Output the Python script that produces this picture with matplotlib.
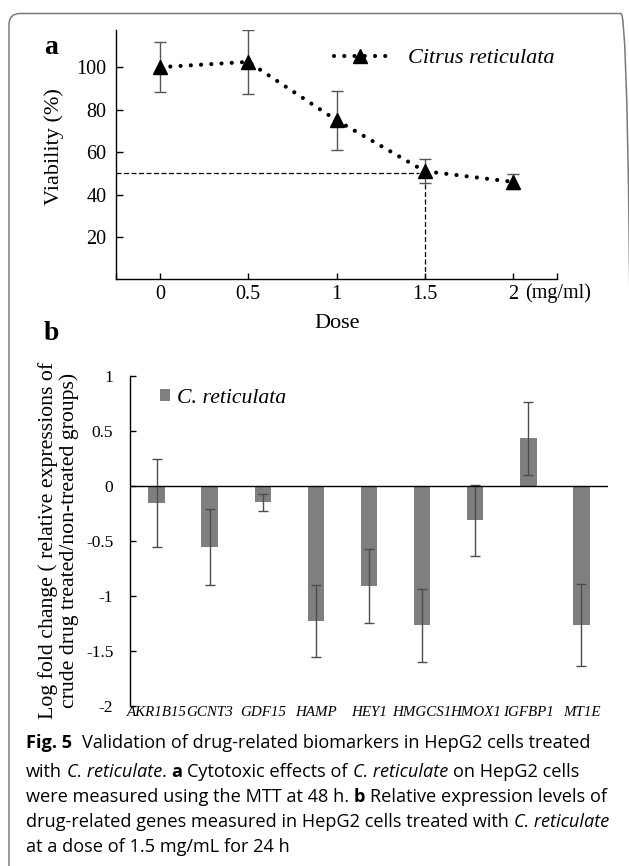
import matplotlib
matplotlib.use("Agg")
import matplotlib.pyplot as plt
from matplotlib.patches import FancyBboxPatch
from matplotlib.transforms import IdentityTransform
from matplotlib.ticker import FixedLocator

# ---- data: panel a (MTT viability) ----
doses = [0, 0.5, 1, 1.5, 2]
viability = [100, 102.5, 75, 51, 46]
viability_err = [11.7, 15, 14, 5.7, 3.5]
dose_ticks = [0, 0.5, 1, 1.5, 2]
dose_ticklabels = ["0", "0.5", "1", "1.5", "2"]
viab_ticks = [20, 40, 60, 80, 100]
ic50_dose = 1.5
ic50_viab = 50

# ---- data: panel b (log fold change) ----
genes = ["AKR1B15", "GCNT3", "GDF15", "HAMP", "HEY1", "HMGCS1", "HMOX1", "IGFBP1", "MT1E"]
log_fc = [-0.16, -0.553, -0.15, -1.228, -0.91, -1.267, -0.315, 0.43, -1.264]
log_fc_err = [0.40, 0.345, 0.08, 0.325, 0.34, 0.33, 0.32, 0.33, 0.37]
fc_ticks = [1, 0.5, 0, -0.5, -1, -1.5, -2]
fc_ticklabels = ["1", "0.5", "0", "-0.5", "-1", "-1.5", "-2"]

W, H = 629, 866
SERIF = "Liberation Serif"
SANS = "Open Sans"
plt.rcParams["font.family"] = [SERIF, "DejaVu Serif"]


def fx(x):
    return x / W


def fy(y):
    return 1 - y / H


fig = plt.figure(figsize=(W / 100, H / 100), dpi=100)

# rounded frame
frame = FancyBboxPatch((9, -60), 632 - 9, H - 13.5 + 60,
                       boxstyle="round,pad=0,rounding_size=11",
                       transform=IdentityTransform(), fill=False,
                       ec="#7a7a7a", lw=1.1)
fig.add_artist(frame)

# ================= panel a =================
a_w = (557 - 116) / W
ax1 = fig.add_axes([fx(116), fy(279.5), a_w, (279.5 - 30) / H])
ax1.set_xlim(-0.25, 2.25)
ax1.set_ylim(0, 117.5)
for s in ("top", "right"):
    ax1.spines[s].set_visible(False)
for s in ("left", "bottom"):
    ax1.spines[s].set_linewidth(1.0)

ax1.errorbar(doses, viability, yerr=viability_err, fmt="none",
             ecolor="#555555", elinewidth=1.0, capsize=4, capthick=1.0, zorder=2)
ax1.plot(doses, viability, color="black", lw=3.0, linestyle=(0, (0.01, 2.45)),
         dash_capstyle="round", marker="^", markersize=9.5, markerfacecolor="black",
         markeredgecolor="black", label="Citrus reticulata", zorder=3)
# IC50 guide lines
ax1.plot([-0.25, ic50_dose - 0.03], [ic50_viab, ic50_viab], color="black",
         lw=0.9, linestyle=(0, (4, 2)), zorder=1)
ax1.plot([ic50_dose, ic50_dose], [ic50_viab - 5, 0], color="black",
         lw=0.9, linestyle=(0, (4, 2)), zorder=1)

ax1.set_xticks(dose_ticks)
ax1.set_xticklabels(dose_ticklabels)
ax1.xaxis.set_minor_locator(FixedLocator([-0.25, 2.25]))
ax1.set_yticks(viab_ticks)
ax1.tick_params(axis="x", which="both", direction="in", length=4, width=1.0,
                labelsize=14.5, pad=4)
ax1.tick_params(axis="y", direction="in", length=5, width=1.0,
                labelsize=14.5, pad=7)
ax1.set_ylabel("Viability (%)", fontsize=16, va="center")
ax1.yaxis.set_label_coords((54 - 116) / (557 - 116), (279.5 - 147) / (279.5 - 30))

ax1.legend(loc="center left", bbox_to_anchor=(fx(334), fy(58)),
           bbox_transform=fig.transFigure, frameon=False,
           prop={"family": SERIF, "style": "italic", "size": 16},
           handlelength=2.35, handletextpad=1.0, borderpad=0, borderaxespad=0)

fig.text(fx(525), fy(293), "(mg/ml)", fontsize=14.5, ha="left", va="center")
fig.text(fx(337), fy(323), "Dose", fontsize=16, ha="center", va="center")
fig.text(fx(44), fy(47), "a", fontsize=20, fontweight="bold", ha="left", va="center")

# ================= panel b =================
b_h = 706 - 375.7
ax2 = fig.add_axes([fx(130), fy(706), (608 - 130) / W, b_h / H])
xpos = list(range(len(genes)))
ax2.bar(xpos, log_fc, width=0.31, color="#7f7f7f", zorder=2, label="C. reticulata")
ax2.errorbar(xpos, log_fc, yerr=log_fc_err, fmt="none", ecolor="#4d4d4d",
             elinewidth=1.0, capsize=3.6, capthick=1.0, zorder=3)
ax2.axhline(0, color="black", lw=1.0, zorder=4)
ax2.set_xlim(-0.5, len(genes) - 0.5)
ax2.set_ylim(-2, 1)
for s in ("top", "right", "bottom"):
    ax2.spines[s].set_visible(False)
ax2.spines["left"].set_linewidth(1.0)
ax2.set_yticks(fc_ticks)
ax2.set_yticklabels(fc_ticklabels)
ax2.tick_params(axis="y", direction="in", length=4, width=1.0,
                labelsize=12.5, pad=12)
ax2.set_xticks(xpos)
ax2.set_xticklabels(genes, fontstyle="italic", fontsize=10.8)
ax2.tick_params(axis="x", length=0, pad=0)

ax2.set_ylabel("Log fold change ( relative expressions of\ncrude drug treated/non-treated groups)",
               fontsize=15.7, linespacing=1.1, va="center")
ax2.yaxis.set_label_coords((58.5 - 130) / (608 - 130), (706 - 540) / b_h)

ax2.legend(loc="center left", bbox_to_anchor=(fx(160), fy(398)),
           bbox_transform=fig.transFigure, frameon=False,
           prop={"family": SERIF, "style": "italic", "size": 15.7},
           handlelength=0.45, handleheight=0.45, handletextpad=0.35,
           borderpad=0, borderaxespad=0)

fig.text(fx(44), fy(333), "b", fontsize=20, fontweight="bold", ha="left", va="center")

# ================= caption =================
renderer = fig.canvas.get_renderer()
CAP_SIZE = 13.1


def text_width(s, **kw):
    t = fig.text(0, 0, s, fontsize=CAP_SIZE, family=SANS, **kw)
    w = t.get_window_extent(renderer).width
    t.remove()
    return w


space_w = text_width("x x") - text_width("xx")


def draw_runs(x, y, runs):
    cur = x
    for s, kw in runs:
        lead = len(s) - len(s.lstrip(" "))
        trail = len(s) - len(s.rstrip(" "))
        core = s.strip(" ")
        cur += lead * space_w
        if core:
            t = fig.text(fx(cur), fy(y), core, fontsize=CAP_SIZE, family=SANS,
                         ha="left", va="baseline", **kw)
            cur += t.get_window_extent(renderer).width
        cur += trail * space_w


N = {}
B = {"fontweight": "bold"}
I = {"fontstyle": "italic"}
caption = [
    (748, [("Fig. 5", B), ("  Validation of drug-related biomarkers in HepG2 cells treated", N)]),
    (777, [("with ", N), ("C. reticulate", I), (". ", N), ("a", B),
           (" Cytotoxic effects of ", N), ("C. reticulate", I), (" on HepG2 cells", N)]),
    (802, [("were measured using the MTT at 48 h. ", N), ("b", B),
           (" Relative expression levels of", N)]),
    (827, [("drug-related genes measured in HepG2 cells treated with ", N), ("C. reticulate", I)]),
    (852, [("at a dose of 1.5 mg/mL for 24 h", N)]),
]
for y, runs in caption:
    draw_runs(26, y, runs)

fig.savefig("out.png", dpi=100)
